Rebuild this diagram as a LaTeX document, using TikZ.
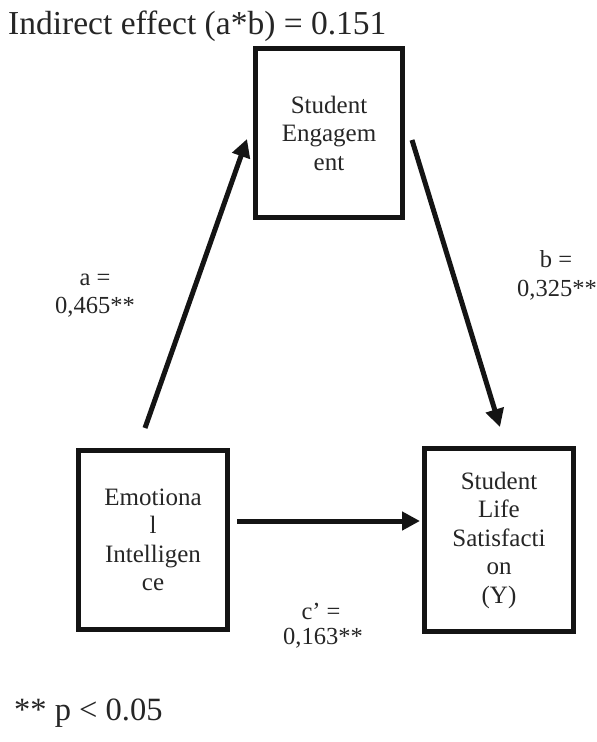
\documentclass[tikz,border=0pt]{standalone}
\usepackage{fontspec}
\setmainfont{Liberation Serif}
\usetikzlibrary{arrows.meta}
\definecolor{ink}{HTML}{141414}
\definecolor{txt}{HTML}{262626}
\begin{document}
\begin{tikzpicture}[x=1pt,y=-1pt,
  box/.style={draw=ink,line width=5pt,inner sep=0pt,align=center,text=txt,font=\fontsize{25}{28.5}\selectfont},
  conn/.style={draw=ink,line width=5pt,-{Triangle[length=18pt,width=18pt]}},
  lbl/.style={text=txt,font=\fontsize{24.5}{28}\selectfont,anchor=base,inner sep=0pt},
  big/.style={text=txt,font=\fontsize{33.5}{38}\selectfont,anchor=base west,inner sep=0pt}]
\useasboundingbox[fill=white] (0,0) rectangle (597,742);
\node[big] (title) at (8,34) {Indirect effect (a*b) = 0.151};
\node[box,minimum width=147pt,minimum height=169pt] (se) at (329,133) {Student\\Engagem\\ent};
\node[box,minimum width=149pt,minimum height=179pt] (ei) at (153,540) {Emotiona\\l\\Intelligen\\ce};
\node[box,minimum width=149pt,minimum height=183pt] (ls) at (499,540) {Student\\Life\\Satisfacti\\on\\(Y)};
\coordinate (a1) at (145,428); \coordinate (a2) at (247,139);
\coordinate (b1) at (412,140); \coordinate (b2) at (500,427);
\coordinate (c1) at (237,521); \coordinate (c2) at (420,521);
\draw[conn] (a1) -- (a2);
\draw[conn] (b1) -- (b2);
\draw[conn] (c1) -- (c2);
\node[lbl] (la1) at (95,285) {a =};
\node[lbl] (la2) at (95,313) {0,465**};
\node[lbl] (lb1) at (556,267) {b =};
\node[lbl] (lb2) at (557,296) {0,325**};
\node[lbl] (lc1) at (321,619) {c’ =};
\node[lbl] (lc2) at (323,644) {0,163**};
\node[big,font=\fontsize{32.5}{37}\selectfont] (foot) at (14,720) {** p < 0.05};
\end{tikzpicture}
\end{document}
